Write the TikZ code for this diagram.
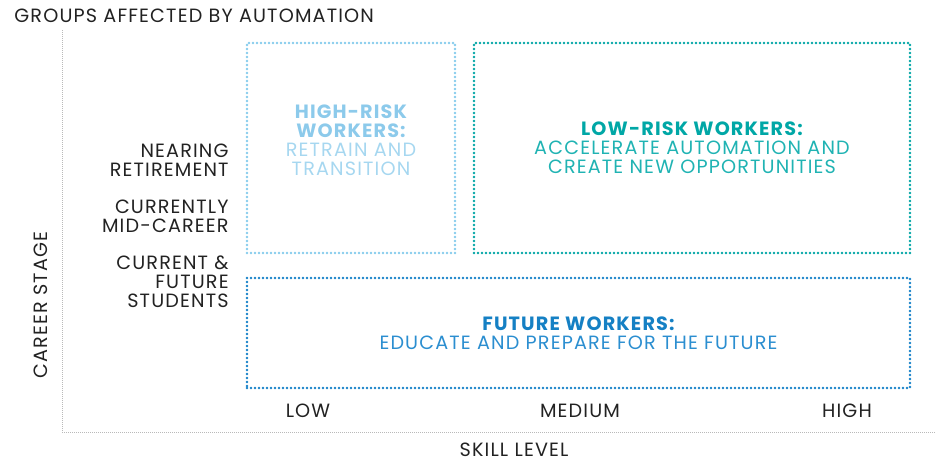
\documentclass[tikz,border=0pt]{standalone}
\usepackage{fontspec}
\setmainfont[LetterSpace=6]{Poppins}
\usetikzlibrary{positioning}
\definecolor{hiriskline}{HTML}{86CBEC}
\definecolor{hiriskhead}{HTML}{8CCAEB}
\definecolor{hirisktext}{HTML}{A6D7F0}
\definecolor{loriskline}{HTML}{00A5A5}
\definecolor{loriskhead}{HTML}{00A7A6}
\definecolor{lorisktext}{HTML}{20B3B3}
\definecolor{futureline}{HTML}{1580C8}
\definecolor{futurehead}{HTML}{1580C4}
\definecolor{futuretext}{HTML}{2B8ED0}
\definecolor{labelgray}{HTML}{222222}

\begin{document}
\begin{tikzpicture}[x=0.5pt, y=-0.5pt,
  every node/.style={font=\fontsize{9.6}{9.5}\selectfont, inner sep=0pt},
  axisline/.style={draw=gray!55, line width=0.5pt, dash pattern=on 0.5pt off 0.5pt},
  groupbox/.style={line width=1.4pt, line cap=round, dash pattern=on 0pt off 2pt, align=center},
  stagelabel/.style={anchor=east, align=right, text=labelgray},
  skilllabel/.style={text=labelgray}]
  \useasboundingbox (0,0) rectangle (936,462);

  % Axes
  \coordinate (ytop) at (62,30);
  \coordinate (origin) at (62,432);
  \coordinate (xend) at (936,432);
  \draw[axisline] (ytop) -- (origin) -- (xend);

  % Titles
  \node[anchor=west, text=labelgray] (title) at (14,15.5) {GROUPS AFFECTED BY AUTOMATION};
  \node[rotate=90, text=labelgray] (ylabel) at (41,305) {CAREER STAGE};
  \node[text=labelgray] (xlabel) at (514,450) {SKILL LEVEL};

  % Career stages
  \node[stagelabel] (nearing) at (229,160.5) {NEARING\\RETIREMENT};
  \node[stagelabel] (midcareer) at (229,216.5) {CURRENTLY\\MID-CAREER};
  \node[stagelabel] (students) at (229,282) {CURRENT \&\\FUTURE\\STUDENTS};

  % Skill levels
  \node[skilllabel] (low) at (308,411) {LOW};
  \node[skilllabel] (medium) at (580,411) {MEDIUM};
  \node[skilllabel] (high) at (847,411) {HIGH};

  % Groups
  \node[groupbox, draw=hiriskline, minimum width=104pt, minimum height=105pt] (highrisk) at (351,148)
    {\textcolor{hiriskhead}{\bfseries HIGH-RISK}\\\textcolor{hiriskhead}{\bfseries WORKERS:}\\
     \textcolor{hirisktext}{RETRAIN AND}\\\textcolor{hirisktext}{TRANSITION}\\[-1.5pt]};
  \node[groupbox, draw=loriskline, minimum width=218pt, minimum height=105pt] (lowrisk) at (692,148)
    {\textcolor{loriskhead}{\bfseries LOW-RISK WORKERS:}\\
     \textcolor{lorisktext}{ACCELERATE AUTOMATION AND}\\\textcolor{lorisktext}{CREATE NEW OPPORTUNITIES}};
  \node[groupbox, draw=futureline, minimum width=331.5pt, minimum height=55pt] (future) at (578.5,333)
    {\textcolor{futurehead}{\bfseries FUTURE WORKERS:}\\
     \textcolor{futuretext}{EDUCATE AND PREPARE FOR THE FUTURE}};
\end{tikzpicture}
\end{document}
